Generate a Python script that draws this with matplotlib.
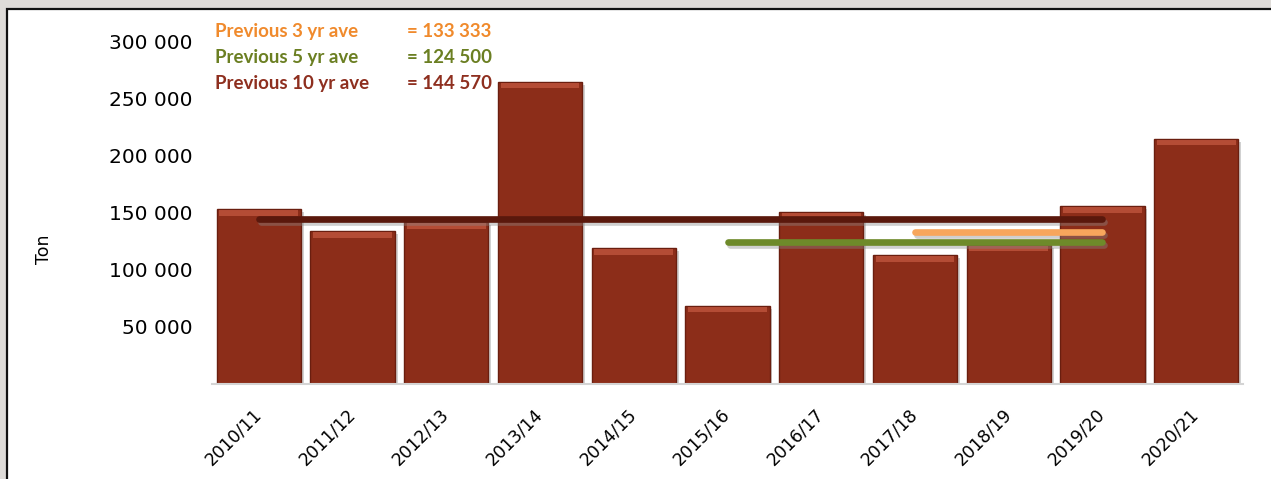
import matplotlib
matplotlib.use('Agg')
import matplotlib.pyplot as plt
import matplotlib.patheffects as pe
from matplotlib.patches import Rectangle
import numpy as np

# Data
seasons = ['2010/11', '2011/12', '2012/13', '2013/14', '2014/15', '2015/16',
           '2016/17', '2017/18', '2018/19', '2019/20', '2020/21']
tons = [153500, 134000, 142000, 265000, 119000, 68500,
        151000, 113000, 122000, 156000, 215000]

# Averages: (label, value, first season index, last season index)
avg_labels = ['Previous 3 yr ave', 'Previous 5 yr ave', 'Previous 10 yr ave']
avg_values = [133333, 124500, 144570]
avg_start = [7, 5, 0]
avg_end = [9, 9, 9]

yticks = [50000, 100000, 150000, 200000, 250000, 300000]

# Colours
bar_col = '#8C2D19'
bar_edge = '#6A1E0F'
bar_top = '#C65A42'
text_cols = ['#F08A2C', '#6B7F22', '#8E2F1F']
line_cols = ['#F7A65C', '#6E8A2A', '#5A180C']

fig = plt.figure(figsize=(12.71, 4.79), dpi=100)
fig.patch.set_facecolor('#dedbd8')

# white panel with black border (cut off at right and bottom)
panel = Rectangle((7 / 1271, -0.2), 1.2, 1.2 - 9 / 479,
                  transform=fig.transFigure, facecolor='white',
                  edgecolor='#111111', linewidth=1.6, zorder=-5)
fig.patches.append(panel)

ax = fig.add_axes([212 / 1271, 95 / 479, 1031 / 1271, 365 / 479])
ax.set_facecolor('none')
ax.set_zorder(2)

x = np.arange(len(seasons))
vals = np.array(tons)

# bars with a soft shadow
ax.bar(x, vals, width=0.9, color=bar_col, edgecolor=bar_edge, linewidth=1,
       zorder=2,
       path_effects=[pe.SimplePatchShadow(offset=(2, -2), shadow_rgbFace='#999999', alpha=0.45),
                     pe.Normal()])
# bevel highlight on the top of each bar
hl = 5000
ax.bar(x, hl, bottom=vals - hl - 800, width=0.84, color=bar_top, linewidth=0, zorder=3, alpha=0.7)

# average lines
for i in range(len(avg_values)):
    ax.plot([avg_start[i], avg_end[i]], [avg_values[i], avg_values[i]],
            color=line_cols[i], linewidth=4.8, solid_capstyle='round', zorder=5,
            path_effects=[pe.SimpleLineShadow(offset=(1.5, -2), shadow_color='#888888', alpha=0.4),
                          pe.Normal()])

ax.set_xlim(-0.5, len(seasons) - 0.5)
ax.set_ylim(0, 320000)

ax.set_yticks(yticks)
ax.set_yticklabels([f'{v:,}'.replace(',', ' ') for v in yticks],
                   fontsize=14.5, family='DejaVu Sans')
ax.tick_params(axis='y', length=0, pad=14)

ax.set_xticks(x)
ax.set_xticklabels(seasons, rotation=45, ha='right', va='center',
                   rotation_mode='anchor', fontsize=12.5, family='DejaVu Sans')
ax.tick_params(axis='x', length=0, pad=20)

for s in ['top', 'right', 'left']:
    ax.spines[s].set_visible(False)
ax.spines['bottom'].set_color('#d4d4d4')
ax.spines['bottom'].set_linewidth(1.5)

fig.text(44 / 1271, 1 - 249 / 479, 'Ton', rotation=90, fontsize=12.5,
         family='DejaVu Sans', ha='center', va='center')

# average annotation text
baselines = [37, 63, 89]
for i in range(len(avg_labels)):
    fy = 1 - baselines[i] / 479
    fig.text(215 / 1271, fy, avg_labels[i], color=text_cols[i], fontsize=13.5,
             family='Lato', fontweight='bold', va='baseline')
    fig.text(407 / 1271, fy, '= ' + f'{avg_values[i]:,}'.replace(',', ' '),
             color=text_cols[i], fontsize=13.5, family='Lato',
             fontweight='bold', va='baseline')

fig.savefig('out.png', dpi=100, facecolor=fig.get_facecolor())
